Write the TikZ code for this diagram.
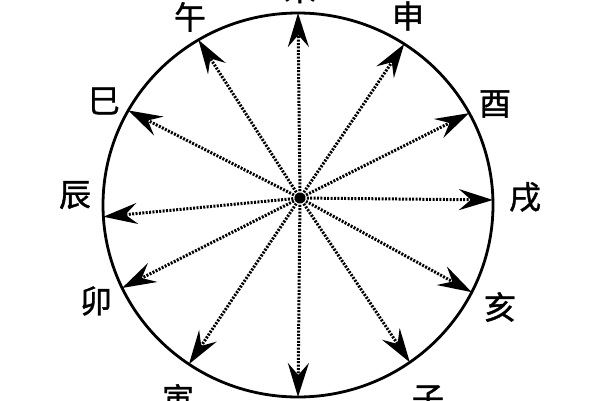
\documentclass[tikz,border=0pt]{standalone}
\usepackage{fontspec}
\newfontfamily\cjk[FakeBold=1.2]{Noto Sans CJK SC}
\usetikzlibrary{arrows.meta}
\begin{document}
\begin{tikzpicture}[x=1pt,y=1pt,
  ring/.style={line width=2.8pt},
  ray/.style={line width=3pt, dash pattern=on 2pt off 1.4pt,
    -{Stealth[length=34pt,width=21pt,inset=12pt]}},
  lbl/.style={font=\cjk\fontsize{32}{32}\selectfont, inner sep=0pt}]
\useasboundingbox (0,-400) rectangle (600,0);
\fill[white] (0,-400) rectangle (600,0);
\coordinate (C) at (298,-205);
\coordinate (H) at (300,-198);
\draw[ring] (C) ellipse [x radius=195, y radius=192];
\foreach \n/\a in {wei/90, shen/57, you/28.6, xu/1.5, hai/-27, zi/-55, chou/-90, yin/-124, mao/-154.4, chen/-176.5, si/150.5, wu/120.7}
  \path (C) ++(\a:195 and 192) coordinate (t\n);
\foreach \n in {wei, shen, you, xu, hai, zi, chou, yin, mao, chen, si, wu}
  \draw[ray] (H) -- (t\n);
\fill (H) circle (5pt);
\node[lbl] (lwei) at (300,11.5) {未};
\node[lbl] (lwu) at (190,-17) {午};
\node[lbl] (lshen) at (408,-16) {申};
\node[lbl] (lsi) at (104,-101) {巳};
\node[lbl] (lyou) at (495,-104) {酉};
\node[lbl] (lchen) at (75,-195) {辰};
\node[lbl] (lxu) at (525,-197) {戌};
\node[lbl] (lmao) at (96,-301) {卯};
\node[lbl] (lhai) at (500,-307) {亥};
\node[lbl] (lyin) at (178,-399) {寅};
\node[lbl] (lzi) at (428,-399) {子};
\end{tikzpicture}
\end{document}
